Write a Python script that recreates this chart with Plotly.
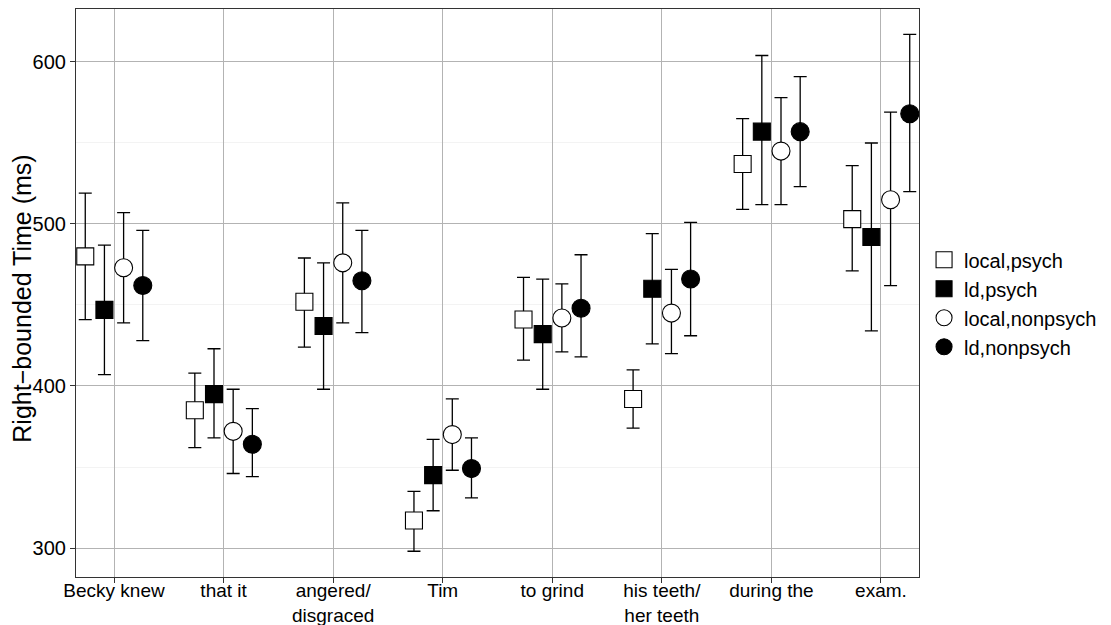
import plotly.graph_objects as go

categories = ["Becky knew", "that it", "angered/disgraced", "Tim", "to grind",
              "his teeth/her teeth", "during the", "exam."]
tick_labels = ["Becky knew", "that it", "angered/<br>disgraced", "Tim", "to grind",
               "his teeth/<br>her teeth", "during the", "exam."]

series_names = ["local,psych", "ld,psych", "local,nonpsych", "ld,nonpsych"]

local_psych_mean = [480, 385, 452, 317, 441, 392, 537, 503]
local_psych_upper = [519, 408, 479, 335, 467, 410, 565, 536]
local_psych_lower = [441, 362, 424, 298, 416, 374, 509, 471]

ld_psych_mean = [447, 395, 437, 345, 432, 460, 557, 492]
ld_psych_upper = [487, 423, 476, 367, 466, 494, 604, 550]
ld_psych_lower = [407, 368, 398, 323, 398, 426, 512, 434]

local_nonpsych_mean = [473, 372, 476, 370, 442, 445, 545, 515]
local_nonpsych_upper = [507, 398, 513, 392, 463, 472, 578, 569]
local_nonpsych_lower = [439, 346, 439, 348, 421, 420, 512, 462]

ld_nonpsych_mean = [462, 364, 465, 349, 448, 466, 557, 568]
ld_nonpsych_upper = [496, 386, 496, 368, 481, 501, 591, 617]
ld_nonpsych_lower = [428, 344, 433, 331, 418, 431, 523, 520]

y_ticks = [300, 400, 500, 600]
y_title = "Right\u2212bounded Time (ms)"

means = [local_psych_mean, ld_psych_mean, local_nonpsych_mean, ld_nonpsych_mean]
uppers = [local_psych_upper, ld_psych_upper, local_nonpsych_upper, ld_nonpsych_upper]
lowers = [local_psych_lower, ld_psych_lower, local_nonpsych_lower, ld_nonpsych_lower]
symbols = ["square", "square", "circle", "circle"]
fills = ["white", "black", "white", "black"]
sizes = [17, 17, 18, 18]

FONT = "Liberation Sans, Arial, Helvetica, sans-serif"

fig = go.Figure()
for i, name in enumerate(series_names):
    m, u, l = means[i], uppers[i], lowers[i]
    fig.add_trace(go.Scatter(
        x=categories, y=m, name=name, mode="markers",
        offsetgroup=str(i),
        marker=dict(symbol=symbols[i], size=sizes[i], color=fills[i],
                    line=dict(color="black", width=1.1)),
        error_y=dict(type="data", symmetric=False,
                     array=[a - b for a, b in zip(u, m)],
                     arrayminus=[b - c for b, c in zip(m, l)],
                     color="black", thickness=1.3, width=6.5),
    ))

# page body has an 8px margin; figure sized to fill the rest of the window
fig.update_layout(
    width=1103, height=617,
    margin=dict(l=68, r=192, t=1, b=48),
    paper_bgcolor="white", plot_bgcolor="white",
    scattermode="group", scattergap=0.3,
    font=dict(family=FONT, size=20, color="black"),
    legend=dict(x=1.006, y=0.482, xanchor="left", yanchor="middle",
                font=dict(size=20), bgcolor="rgba(0,0,0,0)",
                tracegroupgap=0, itemwidth=30),
    showlegend=True,
    annotations=[dict(text=y_title, textangle=-90, xref="paper", yref="paper",
                      x=0, y=0.49, xanchor="center", yanchor="middle",
                      xshift=-54, showarrow=False,
                      font=dict(size=25, color="black"))],
)
fig.update_xaxes(
    type="category", categoryorder="array", categoryarray=categories,
    tickvals=categories, ticktext=tick_labels,
    range=[-0.347, len(categories) - 1 + 0.347],
    showgrid=True, gridcolor="#b3b3b3", gridwidth=1.1,
    showline=True, linecolor="#333333", linewidth=1.2, mirror=True,
    ticks="outside", ticklen=5, tickcolor="#333333", ticklabelstandoff=-9,
    tickfont=dict(size=19, color="black"), zeroline=False, automargin=False,
)
fig.update_yaxes(
    range=[282.1, 632.7], tickvals=y_ticks,
    showgrid=True, gridcolor="#b3b3b3", gridwidth=1.1,
    minor=dict(dtick=50, tick0=0, showgrid=True, gridcolor="#f3f3f3", gridwidth=1),
    showline=True, linecolor="#333333", linewidth=1.2, mirror=True,
    ticks="outside", ticklen=5, tickcolor="#333333",
    tickfont=dict(size=20, color="black"), zeroline=False, automargin=False,
)

fig.write_html("out.html")
